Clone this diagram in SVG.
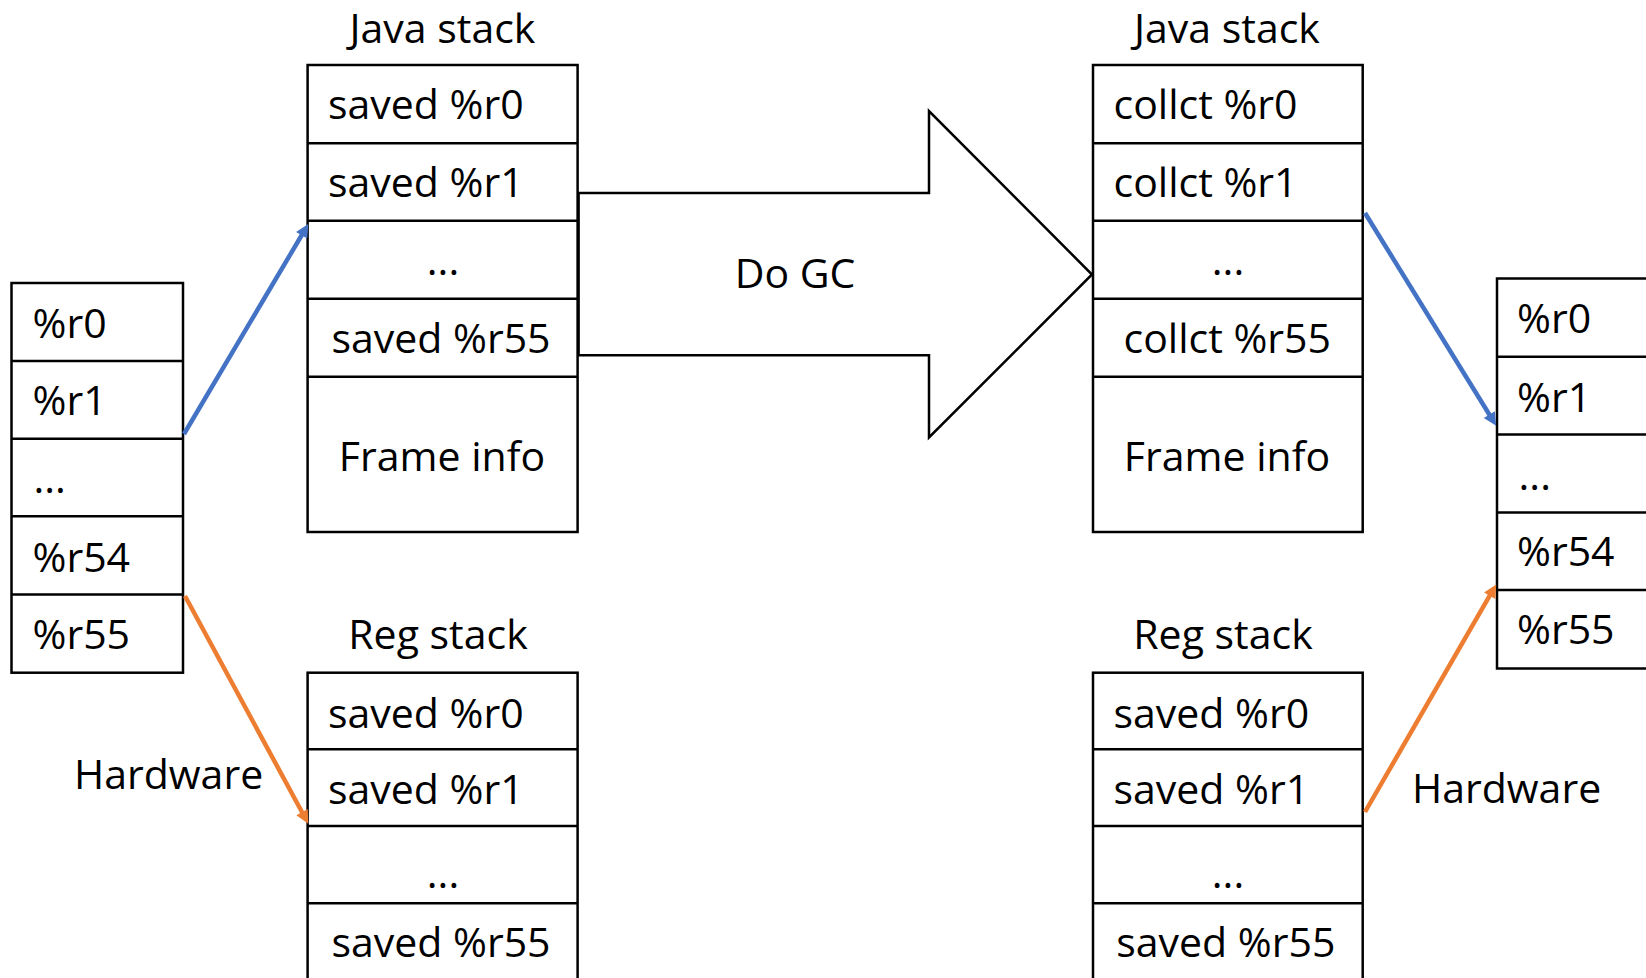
<svg xmlns="http://www.w3.org/2000/svg" width="1646" height="978" viewBox="0 0 1646 978">
<style>
.box{fill:#fff;stroke:#000;stroke-width:2.5}
.sep{stroke:#000;stroke-width:2.5}
text{font-family:"Open Sans","Liberation Sans",sans-serif;font-size:41px;fill:#000}
.c{text-anchor:middle}
.blue{stroke:#4472C4;stroke-width:4.5;fill:none}
.orange{stroke:#ED7D31;stroke-width:4.5;fill:none}
</style>
<defs>
<marker id="hb" viewBox="0 0 10 10" refX="2" refY="5" markerUnits="userSpaceOnUse" markerWidth="15" markerHeight="13" orient="auto"><path d="M0,0 L10,5 L0,10 z" fill="#4472C4"/></marker>
<marker id="ho" viewBox="0 0 10 10" refX="2" refY="5" markerUnits="userSpaceOnUse" markerWidth="15" markerHeight="13" orient="auto"><path d="M0,0 L10,5 L0,10 z" fill="#ED7D31"/></marker>
</defs>
<rect width="1646" height="978" fill="#fff"/>

<g id="regs-left">
<rect class="box" x="11.5" y="283" width="171.5" height="389.7"/>
<line class="sep" x1="11.5" y1="361" x2="183" y2="361"/>
<line class="sep" x1="11.5" y1="438.7" x2="183" y2="438.7"/>
<line class="sep" x1="11.5" y1="516.3" x2="183" y2="516.3"/>
<line class="sep" x1="11.5" y1="594.5" x2="183" y2="594.5"/>
<text x="32.5" y="338.3">%r0</text>
<text x="32.5" y="415">%r1</text>
<text x="33.5" y="492.7">...</text>
<text x="32.5" y="571.7">%r54</text>
<text x="32.5" y="649">%r55</text>
</g>

<g id="java-stack-left">
<text class="c" x="442.5" y="42.7">Java stack</text>
<rect class="box" x="307.6" y="65" width="270" height="467"/>
<line class="sep" x1="307.6" y1="143.3" x2="577.6" y2="143.3"/>
<line class="sep" x1="307.6" y1="220.7" x2="577.6" y2="220.7"/>
<line class="sep" x1="307.6" y1="298.7" x2="577.6" y2="298.7"/>
<line class="sep" x1="307.6" y1="376.7" x2="577.6" y2="376.7"/>
<text x="328" y="119.3">saved %r0</text>
<text x="328" y="197.3">saved %r1</text>
<text class="c" x="443" y="275">...</text>
<text class="c" x="441" y="353.3">saved %r55</text>
<text class="c" x="442" y="470.7">Frame info</text>
</g>

<g id="reg-stack-left">
<text class="c" x="438" y="649.3">Reg stack</text>
<rect class="box" x="307.6" y="672.7" width="270" height="330"/>
<line class="sep" x1="307.6" y1="749.3" x2="577.6" y2="749.3"/>
<line class="sep" x1="307.6" y1="826" x2="577.6" y2="826"/>
<line class="sep" x1="307.6" y1="903.3" x2="577.6" y2="903.3"/>
<text x="328" y="727.7">saved %r0</text>
<text x="328" y="804">saved %r1</text>
<text class="c" x="443" y="888.3">...</text>
<text class="c" x="441" y="956.7">saved %r55</text>
</g>

<g id="do-gc">
<path d="M578.6,193 L929,193 L929,111 L1092,274.5 L929,437.5 L929,355.3 L578.6,355.3 Z" fill="#fff" stroke="#000" stroke-width="2.5" stroke-linejoin="miter"/>
<text class="c" x="795" y="288.3">Do GC</text>
</g>

<g id="java-stack-right">
<text class="c" x="1227" y="42.7">Java stack</text>
<rect class="box" x="1093" y="65" width="269.7" height="467"/>
<line class="sep" x1="1093" y1="143.3" x2="1362.7" y2="143.3"/>
<line class="sep" x1="1093" y1="220.7" x2="1362.7" y2="220.7"/>
<line class="sep" x1="1093" y1="298.7" x2="1362.7" y2="298.7"/>
<line class="sep" x1="1093" y1="376.7" x2="1362.7" y2="376.7"/>
<text x="1113.5" y="119.3">collct %r0</text>
<text x="1113.5" y="197.3">collct %r1</text>
<text class="c" x="1228" y="275">...</text>
<text class="c" x="1227.3" y="353.3">collct %r55</text>
<text class="c" x="1227" y="470.7">Frame info</text>
</g>

<g id="reg-stack-right">
<text class="c" x="1223" y="649.3">Reg stack</text>
<rect class="box" x="1093" y="672.7" width="269.7" height="330"/>
<line class="sep" x1="1093" y1="749.3" x2="1362.7" y2="749.3"/>
<line class="sep" x1="1093" y1="826" x2="1362.7" y2="826"/>
<line class="sep" x1="1093" y1="903.3" x2="1362.7" y2="903.3"/>
<text x="1113.5" y="727.7">saved %r0</text>
<text x="1113.5" y="804">saved %r1</text>
<text class="c" x="1228" y="888.3">...</text>
<text class="c" x="1225.8" y="956.7">saved %r55</text>
</g>

<g id="regs-right">
<rect class="box" x="1497" y="278.5" width="200" height="390"/>
<line class="sep" x1="1497" y1="356.7" x2="1697" y2="356.7"/>
<line class="sep" x1="1497" y1="434.5" x2="1697" y2="434.5"/>
<line class="sep" x1="1497" y1="512.5" x2="1697" y2="512.5"/>
<line class="sep" x1="1497" y1="590" x2="1697" y2="590"/>
<text x="1517" y="333.3">%r0</text>
<text x="1517" y="411.7">%r1</text>
<text x="1518.6" y="490">...</text>
<text x="1517" y="566">%r54</text>
<text x="1517" y="644">%r55</text>
</g>

<g id="connectors">
<line class="blue" x1="184" y1="434" x2="303" y2="233" marker-end="url(#hb)"/>
<line class="orange" x1="185" y1="596" x2="303.3" y2="814.5" marker-end="url(#ho)"/>
<line class="blue" x1="1365" y1="213" x2="1490.7" y2="416.8" marker-end="url(#hb)"/>
<line class="orange" x1="1365" y1="812" x2="1491" y2="593.4" marker-end="url(#ho)"/>
<text x="74" y="789">Hardware</text>
<text x="1412" y="803.3">Hardware</text>
</g>
</svg>
